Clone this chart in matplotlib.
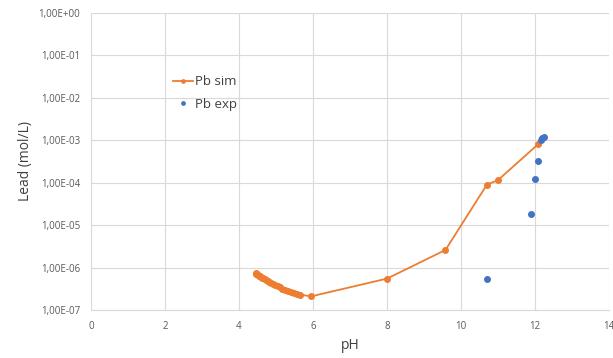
import matplotlib
matplotlib.use("Agg")
import matplotlib.pyplot as plt
from matplotlib.ticker import FixedLocator, FuncFormatter

plt.rcParams['font.family'] = ['Open Sans', 'DejaVu Sans']

# simulated lead solubility vs pH
ph_sim = [4.45, 4.47, 4.49, 4.51, 4.53, 4.56, 4.59, 4.62, 4.65, 4.69, 4.73, 4.77,
          4.82, 4.87, 4.92, 4.98, 5.04, 5.10, 5.17, 5.24, 5.32, 5.40, 5.48, 5.57,
          5.65, 5.95, 8.0, 9.58, 10.7, 11.0, 12.08]
pb_sim = [7.3e-7, 7.1e-7, 6.9e-7, 6.7e-7, 6.5e-7, 6.3e-7, 6.0e-7, 5.8e-7, 5.6e-7,
          5.3e-7, 5.1e-7, 4.8e-7, 4.6e-7, 4.3e-7, 4.1e-7, 3.8e-7, 3.6e-7, 3.4e-7,
          3.2e-7, 3.0e-7, 2.8e-7, 2.65e-7, 2.5e-7, 2.4e-7, 2.3e-7, 2.1e-7, 5.5e-7,
          2.6e-6, 9.0e-5, 1.15e-4, 8.0e-4]

# measured values
ph_exp = [10.7, 11.88, 12.0, 12.08, 12.15, 12.2, 12.25]
pb_exp = [5.3e-7, 1.8e-5, 1.2e-4, 3.2e-4, 1.0e-3, 1.1e-3, 1.2e-3]

orange = '#ED7D31'
blue = '#4472C4'
grey = '#595959'

fig = plt.figure(figsize=(6.13, 3.58), dpi=100)
ax = fig.add_axes([0.1485, 0.134, 0.845, 0.83])

ax.plot(ph_sim, pb_sim, color=orange, lw=1.3, marker='o', ms=4, label='Pb sim', zorder=3)
ax.plot(ph_exp, pb_exp, ls='none', color=blue, marker='o', ms=4, label='Pb exp', zorder=4)

ax.set_yscale('log')
ax.set_xlim(0, 14)
ax.set_ylim(1e-7, 1)
ax.set_xticks(range(0, 15, 2))
ax.yaxis.set_major_locator(FixedLocator([10.0 ** k for k in range(-7, 1)]))
ax.yaxis.set_minor_locator(FixedLocator([]))
ax.yaxis.set_major_formatter(FuncFormatter(
    lambda v, p: ('%.2E' % v).replace('.', ',')))

ax.grid(True, color='#D9D9D9', lw=0.8)
ax.set_axisbelow(True)
for s in ['top', 'right', 'left']:
    ax.spines[s].set_visible(False)
ax.spines['bottom'].set_color('#D9D9D9')
ax.tick_params(length=0, labelsize=7, colors=grey, pad=8)

ax.set_xlabel('pH', fontsize=10, color='#404040')
ax.set_ylabel('Lead (mol/L)', fontsize=10, color='#404040')

ax.legend(loc='upper left', bbox_to_anchor=(0.135, 0.83), frameon=False,
          fontsize=9.5, handlelength=1.5, handletextpad=0.2, labelspacing=0.7,
          labelcolor='#404040', markerscale=0.6)

fig.savefig('out.png', dpi=100)
